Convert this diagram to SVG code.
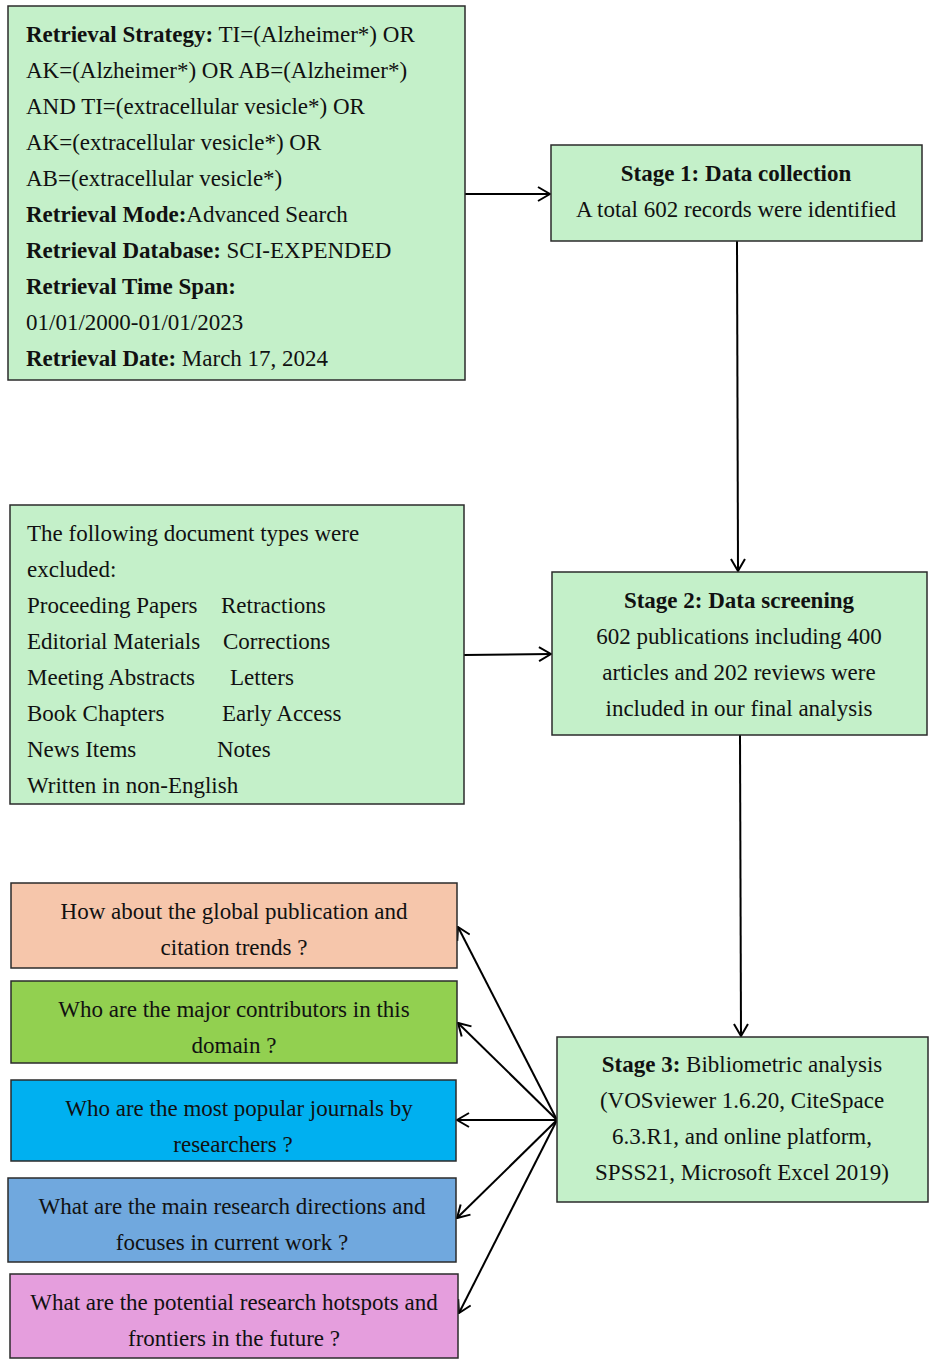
<svg xmlns="http://www.w3.org/2000/svg" width="935" height="1365" viewBox="0 0 935 1365">
<style>
.box{stroke:#2b2b2b;stroke-width:1.5}
.g{fill:#C4F0C9}
text{font-family:"Liberation Serif","Times New Roman",serif;font-size:23px;fill:#111}
.b{font-weight:bold}
.c{text-anchor:middle}
.conn{stroke:#000;stroke-width:2;fill:none}
</style>
<defs>
<marker id="ah" viewBox="0 0 14 16" refX="13" refY="8" markerWidth="14" markerHeight="16" orient="auto" markerUnits="userSpaceOnUse">
<path d="M1,1 L13,8 L1,15" fill="none" stroke="#000" stroke-width="2"/>
</marker>
</defs>
<rect width="935" height="1365" fill="#fff"/>

<g id="connectors">
<line class="conn" x1="465" y1="194" x2="550" y2="194" marker-end="url(#ah)"/>
<line class="conn" x1="737" y1="241" x2="738" y2="571" marker-end="url(#ah)"/>
<line class="conn" x1="464" y1="655" x2="551" y2="654" marker-end="url(#ah)"/>
<line class="conn" x1="740" y1="735" x2="741" y2="1036" marker-end="url(#ah)"/>
<line class="conn" x1="557" y1="1120" x2="458" y2="927" marker-end="url(#ah)"/>
<line class="conn" x1="557" y1="1120" x2="458" y2="1023" marker-end="url(#ah)"/>
<line class="conn" x1="557" y1="1120" x2="457" y2="1120" marker-end="url(#ah)"/>
<line class="conn" x1="557" y1="1120" x2="457" y2="1218" marker-end="url(#ah)"/>
<line class="conn" x1="557" y1="1120" x2="459" y2="1313" marker-end="url(#ah)"/>
</g>

<g id="retrieval">
<rect class="box g" x="8" y="6" width="457" height="374"/>
<text x="26" y="42"><tspan class="b">Retrieval Strategy:</tspan> TI=(Alzheimer*) OR</text>
<text x="26" y="78">AK=(Alzheimer*) OR AB=(Alzheimer*)</text>
<text x="26" y="114">AND TI=(extracellular vesicle*) OR</text>
<text x="26" y="150">AK=(extracellular vesicle*) OR</text>
<text x="26" y="186">AB=(extracellular vesicle*)</text>
<text x="26" y="222"><tspan class="b">Retrieval Mode:</tspan>Advanced Search</text>
<text x="26" y="258"><tspan class="b">Retrieval Database:</tspan> SCI-EXPENDED</text>
<text x="26" y="294" class="b">Retrieval Time Span:</text>
<text x="26" y="330">01/01/2000-01/01/2023</text>
<text x="26" y="366"><tspan class="b">Retrieval Date:</tspan> March 17, 2024</text>
</g>

<g id="stage1">
<rect class="box g" x="551" y="145" width="371" height="96"/>
<text x="736" y="181" class="c b">Stage 1: Data collection</text>
<text x="736" y="217" class="c">A total 602 records were identified</text>
</g>

<g id="excluded">
<rect class="box g" x="10" y="505" width="454" height="299"/>
<text x="27" y="541">The following document types were</text>
<text x="27" y="577">excluded:</text>
<text x="27" y="613">Proceeding Papers</text>
<text x="221" y="613">Retractions</text>
<text x="27" y="649">Editorial Materials</text>
<text x="223" y="649">Corrections</text>
<text x="27" y="685">Meeting Abstracts</text>
<text x="230" y="685">Letters</text>
<text x="27" y="721">Book Chapters</text>
<text x="222" y="721">Early Access</text>
<text x="27" y="757">News Items</text>
<text x="217" y="757">Notes</text>
<text x="27" y="793">Written in non-English</text>
</g>

<g id="stage2">
<rect class="box g" x="552" y="572" width="375" height="163"/>
<text x="739" y="608" class="c b">Stage 2: Data screening</text>
<text x="739" y="644" class="c">602 publications including 400</text>
<text x="739" y="680" class="c">articles and 202 reviews were</text>
<text x="739" y="716" class="c">included in our final analysis</text>
</g>

<g id="stage3">
<rect class="box g" x="557" y="1037" width="371" height="165"/>
<text x="742" y="1072" class="c"><tspan class="b">Stage 3:</tspan> Bibliometric analysis</text>
<text x="742" y="1108" class="c">(VOSviewer 1.6.20, CiteSpace</text>
<text x="742" y="1144" class="c">6.3.R1, and online platform,</text>
<text x="742" y="1180" class="c">SPSS21, Microsoft Excel 2019)</text>
</g>

<g id="q1">
<rect class="box" fill="#F6C6AB" x="11" y="883" width="446" height="85"/>
<text x="234" y="919" class="c">How about the global publication and</text>
<text x="234" y="955" class="c">citation trends ?</text>
</g>

<g id="q2">
<rect class="box" fill="#92D050" x="11" y="981" width="446" height="82"/>
<text x="234" y="1017" class="c">Who are the major contributors in this</text>
<text x="234" y="1053" class="c">domain ?</text>
</g>

<g id="q3">
<rect class="box" fill="#00B0F0" x="11" y="1080" width="445" height="81"/>
<text x="239" y="1116" class="c">Who are the most popular journals by</text>
<text x="233" y="1152" class="c">researchers ?</text>
</g>

<g id="q4">
<rect class="box" fill="#70A8DE" x="8" y="1178" width="448" height="84"/>
<text x="232" y="1214" class="c">What are the main research directions and</text>
<text x="232" y="1250" class="c">focuses in current work ?</text>
</g>

<g id="q5">
<rect class="box" fill="#E59EDD" x="10" y="1274" width="448" height="84"/>
<text x="234" y="1310" class="c">What are the potential research hotspots and</text>
<text x="234" y="1346" class="c">frontiers in the future ?</text>
</g>
</svg>
